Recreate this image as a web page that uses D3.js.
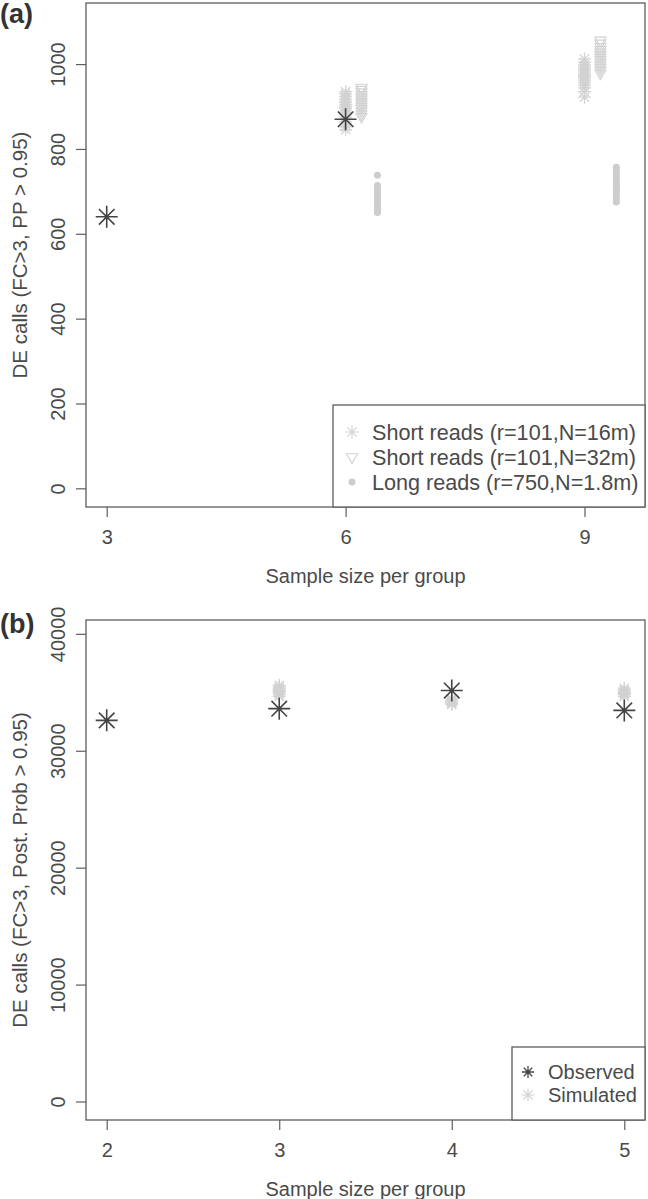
<!DOCTYPE html>
<html>
  <head>
    <meta charset="utf-8">
    <title></title>
    <script src="https://cdn.jsdelivr.net/npm/d3@7/dist/d3.min.js" charset="utf-8"></script>
    <style>
      body{margin:0;background:#fff;}
      svg{display:block;font-family:"Liberation Sans",Arial,Helvetica,sans-serif;}
    </style>
    <script>
    //(a) DE calls vs sample size
    let obsA_n=[3, 6];
    let obsA_calls=[640, 870];
    let short16_n6=[845, 852, 858, 864, 870, 875, 881, 886, 890, 895, 899, 904, 909, 913, 918, 924, 930, 935];
    let short16_n9=[922, 935, 944, 951, 957, 962, 967, 971, 975, 979, 984, 988, 993, 998, 1004, 1012];
    let short32_n6=[876, 882, 889, 895, 900, 906, 911, 917, 922, 928, 934, 940, 945];
    let short32_n9=[978, 985, 992, 998, 1004, 1010, 1016, 1022, 1028, 1034, 1041, 1049, 1056];
    let long_n6=[650, 656, 661, 667, 672, 678, 684, 690, 695, 701, 707, 714, 738];
    let long_n9=[675, 682, 688, 694, 700, 706, 712, 718, 724, 730, 737, 744, 751, 757];
    let shiftA=[0, 0.2, 0.4];   //x shift of the three simulated series
    let legendA=['Short reads (r=101,N=16m)', 'Short reads (r=101,N=32m)', 'Long reads (r=750,N=1.8m)'];
    let xTicksA=[3, 6, 9];
    let yTicksA=[0, 200, 400, 600, 800, 1000];

    //(b)
    let obsB_n=[2, 3, 4, 5];
    let obsB_calls=[32600, 33600, 35150, 33450];
    let sim_n3=[34650, 34800, 34950, 35050, 35150, 35250, 35350, 35450, 35600];
    let sim_n4=[33950, 34050, 34150, 34250, 34350, 34450];
    let sim_n5=[34650, 34800, 34900, 35000, 35100, 35200, 35350];
    let legendB=['Observed', 'Simulated'];
    let xTicksB=[2, 3, 4, 5];
    let yTicksB=[0, 10000, 20000, 30000, 40000];

    window.onload=function (){
      let W=648, H=1199;
      let svg=d3.select('body').append('svg').attr('width', W).attr('height', H);

      let ink='#4a4a4a', frame='#5e5e5e', dark='#444', light='#d2d2d2';

      //R 风格 4% 扩展
      let ext=lim=>{let r=lim[1]-lim[0]; return [lim[0]-0.04*r, lim[1]+0.04*r];};

      //pch 8
      let star=h=>{
        let d=h/Math.SQRT2;
        return `M${-h},0H${h}M0,${-h}V${h}M${-d},${-d}L${d},${d}M${-d},${d}L${d},${-d}`;
      };
      //pch 6
      let triDown=s=>{
        let h=s*0.866;
        return `M${-s/2},${-h/3}L${s/2},${-h/3}L0,${2*h/3}Z`;
      };

      function drawMark(g, type, cx, cy, big){
        if(type=='obs'){
          g.append('path').attr('d', star(big?11:6)).attr('transform', `translate(${cx},${cy})`)
            .attr('stroke', dark).attr('stroke-width', big?1.6:1.3).attr('fill', 'none');
        }else if(type=='star'){
          g.append('path').attr('d', star(6.5)).attr('transform', `translate(${cx},${cy})`)
            .attr('stroke', light).attr('stroke-width', 1.2).attr('fill', 'none');
        }else if(type=='tri'){
          g.append('path').attr('d', triDown(11)).attr('transform', `translate(${cx},${cy})`)
            .attr('stroke', light).attr('stroke-width', 1.1).attr('fill', 'none');
        }else{
          g.append('circle').attr('cx', cx).attr('cy', cy).attr('r', 3.5).attr('fill', '#cdcdcd');
        }
      }

      function panel(p){
        let x=d3.scaleLinear().domain(ext(p.xlim)).range([86, 645]);
        let y=d3.scaleLinear().domain(ext(p.ylim)).range([p.bottom, p.top]);
        let g=svg.append('g');

        //axes
        let ax=g.append('g').attr('transform', `translate(0,${p.bottom})`)
          .call(d3.axisBottom(x).tickValues(p.xTicks).tickSize(10).tickPadding(13).tickSizeOuter(0)
            .tickFormat(d3.format('d')));
        let ay=g.append('g').attr('transform', 'translate(86,0)')
          .call(d3.axisLeft(y).tickValues(p.yTicks).tickSize(10).tickSizeOuter(0).tickFormat(d3.format('d')));
        [ax, ay].forEach(a=>{
          a.select('.domain').remove();
          a.selectAll('line').attr('stroke', frame).attr('stroke-width', 1.2);
          a.selectAll('text').attr('fill', ink).style('font-size', '20px').style('font-family', null);
        });
        ay.selectAll('text').attr('transform', 'rotate(-90)').attr('x', 0).attr('y', -21).attr('dy', 0)
          .style('text-anchor', 'middle');

        //points
        let pts=g.append('g');
        p.series.forEach(s=>{
          s.vals.forEach(v=>drawMark(pts, s.type, x(s.n+s.shift), y(v), false));
        });
        p.obsN.forEach((n, i)=>drawMark(pts, 'obs', x(n), y(p.obsCalls[i]), true));

        //box
        g.append('rect').attr('x', 86).attr('y', p.top).attr('width', 645-86).attr('height', p.bottom-p.top)
          .attr('fill', 'none').attr('stroke', frame).attr('stroke-width', 1.3);

        //legend
        let L=p.legend;
        let lg=g.append('g');
        lg.append('rect').attr('x', L.x).attr('y', L.y).attr('width', 645-L.x).attr('height', p.bottom-L.y)
          .attr('fill', '#fff').attr('stroke', frame).attr('stroke-width', 1.3);
        L.labels.forEach((t, i)=>{
          let cy=L.y+L.first+i*L.step;
          drawMark(lg, L.types[i], L.x+L.sym, cy, false);
          lg.append('text').attr('x', L.x+L.txt).attr('y', cy).attr('dy', '0.36em')
            .attr('fill', ink).style('font-size', L.size+'px').text(t);
        });

        //titles
        g.append('text').attr('x', 365.5).attr('y', p.bottom+76).attr('text-anchor', 'middle')
          .attr('fill', ink).style('font-size', '20px').text('Sample size per group');
        g.append('text').attr('transform', `translate(27,${(p.top+p.bottom)/2}) rotate(-90)`)
          .attr('text-anchor', 'middle').attr('fill', ink).style('font-size', '20.5px').text(p.ytitle);
        g.append('text').attr('x', 0).attr('y', p.top+p.tagDy).attr('fill', '#333')
          .style('font-size', '27px').style('font-weight', 'bold').text(p.tag);
      }

      panel({
        tag: '(a)', tagDy: 20, top: 3, bottom: 507,
        xlim: [3, 9.5], ylim: [0, 1100], xTicks: xTicksA, yTicks: yTicksA,
        ytitle: 'DE calls (FC>3, PP > 0.95)',
        obsN: obsA_n, obsCalls: obsA_calls,
        series: [
          {type: 'star', n: 6, shift: shiftA[0], vals: short16_n6},
          {type: 'star', n: 9, shift: shiftA[0], vals: short16_n9},
          {type: 'tri', n: 6, shift: shiftA[1], vals: short32_n6},
          {type: 'tri', n: 9, shift: shiftA[1], vals: short32_n9},
          {type: 'dot', n: 6, shift: shiftA[2], vals: long_n6},
          {type: 'dot', n: 9, shift: shiftA[2], vals: long_n9}
        ],
        legend: {x: 333, y: 405, first: 27, step: 25, sym: 19, txt: 39, size: 21.6,
          labels: legendA, types: ['star', 'tri', 'dot']}
      });

      panel({
        tag: '(b)', tagDy: 13, top: 620, bottom: 1120,
        xlim: [2, 5], ylim: [0, 39600], xTicks: xTicksB, yTicks: yTicksB,
        ytitle: 'DE calls (FC>3, Post. Prob > 0.95)',
        obsN: obsB_n, obsCalls: obsB_calls,
        series: [
          {type: 'star', n: 3, shift: 0, vals: sim_n3},
          {type: 'star', n: 4, shift: 0, vals: sim_n4},
          {type: 'star', n: 5, shift: 0, vals: sim_n5}
        ],
        legend: {x: 512, y: 1047, first: 25, step: 23, sym: 16, txt: 36, size: 20,
          labels: legendB, types: ['obs', 'star']}
      });
    };
    </script>
  </head>
  <body>
  </body>
</html>
